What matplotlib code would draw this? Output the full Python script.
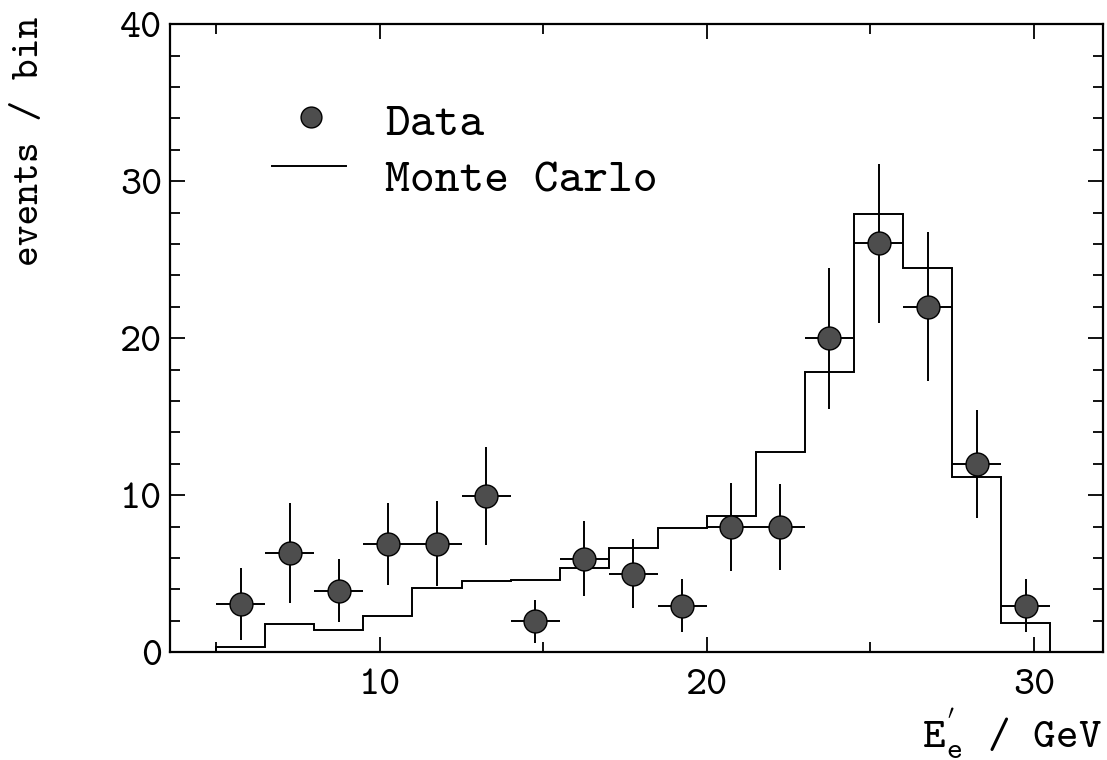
import matplotlib
matplotlib.use("Agg")
import matplotlib.pyplot as plt
from matplotlib.lines import Line2D
from matplotlib.ticker import MultipleLocator

plt.rcParams["font.family"] = ["cmtt10", "DejaVu Sans Mono"]
plt.rcParams["mathtext.fontset"] = "custom"
plt.rcParams["mathtext.rm"] = "cmtt10"
plt.rcParams["mathtext.it"] = "cmtt10"
plt.rcParams["axes.unicode_minus"] = False

# bin edges of the energy histogram (GeV)
bin_edges = [5.0, 6.5, 8.0, 9.5, 11.0, 12.5, 14.0, 15.5, 17.0, 18.5,
             20.0, 21.5, 23.0, 24.5, 26.0, 27.5, 29.0, 30.5]
bin_centres = [5.75, 7.25, 8.75, 10.25, 11.75, 13.25, 14.75, 16.25, 17.75,
               19.25, 20.75, 22.25, 23.75, 25.25, 26.75, 28.25, 29.75]

# monte carlo prediction per bin
mc_counts = [0.3, 1.8, 1.4, 2.3, 4.1, 4.55, 4.6, 5.35, 6.65,
             7.9, 8.65, 12.75, 17.85, 27.9, 24.5, 11.15, 1.85]

# measured events per bin and their errors
data_counts = [3.05, 6.3, 3.9, 6.9, 6.9, 9.95, 1.95, 5.95, 5.0,
               2.95, 7.95, 7.95, 20.0, 26.05, 22.0, 12.0, 2.95]
data_err = [2.3, 3.2, 2.0, 2.6, 2.7, 3.1, 1.4, 2.4, 2.2,
            1.7, 2.8, 2.75, 4.5, 5.05, 4.75, 3.45, 1.7]
half_width = [0.75] * len(bin_centres)

W, H = 1107, 760
MARKER_FC = "#4d4d4d"

fig = plt.figure(figsize=(W / 100, H / 100), dpi=100)
ax = fig.add_axes([0.154, 0.142, 0.842, 0.826])

ax.stairs(mc_counts, bin_edges, color="black", lw=1.4)
ax.errorbar(bin_centres, data_counts, yerr=data_err, xerr=half_width,
            fmt="o", ms=16.5, mfc=MARKER_FC, mec="black", mew=1.0,
            ecolor="black", elinewidth=1.4, capsize=0, zorder=3)

ax.set_xlim(3.6, 32.1)
ax.set_ylim(0, 40)

ax.xaxis.set_major_locator(MultipleLocator(10))
ax.xaxis.set_minor_locator(MultipleLocator(5))
ax.yaxis.set_major_locator(MultipleLocator(10))
ax.yaxis.set_minor_locator(MultipleLocator(2))
ax.tick_params(which="both", direction="in", top=True, right=True, width=1.3)
ax.tick_params(which="major", length=11, labelsize=29)
ax.tick_params(axis="x", which="major", pad=12)
ax.tick_params(axis="y", which="major", pad=6)
ax.tick_params(which="minor", length=7)
for s in ax.spines.values():
    s.set_linewidth(1.6)

# legend, drawn by hand to follow the original layout
fig.add_artist(Line2D([311 / W], [1 - 117 / H], marker="o", ms=15,
                      mfc=MARKER_FC, mec="black", mew=1.0, ls="none"))
fig.add_artist(Line2D([272 / W, 346 / W], [1 - 166 / H, 1 - 166 / H],
                      color="black", lw=1.4))
fig.text(385 / W, 1 - 135 / H, "Data", ha="left", va="baseline", fontsize=34)
fig.text(385 / W, 1 - 192 / H, "Monte Carlo", ha="left", va="baseline",
         fontsize=34)

fig.text(30 / W, 1 - 17 / H, "events / bin", rotation=90,
         ha="center", va="top", fontsize=28.5)
fig.text(1102 / W, 1 - 748 / H, r"E$^{\mathrm{'}}_{\mathrm{e}}$ / GeV",
         ha="right", va="baseline", fontsize=31)

fig.savefig("out.png", dpi=100)
